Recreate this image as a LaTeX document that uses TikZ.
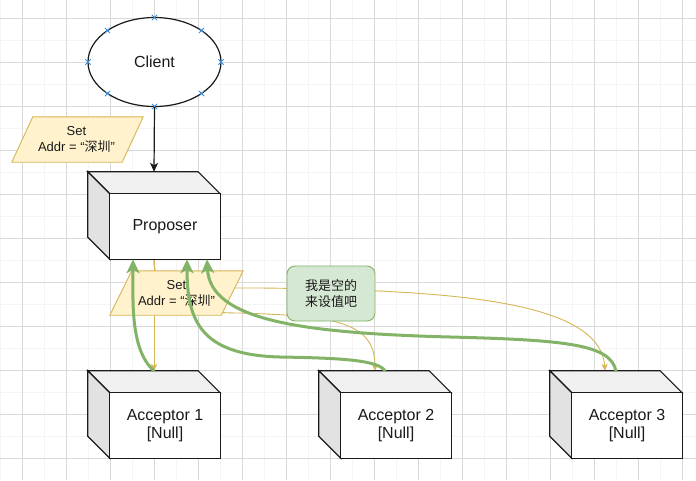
\documentclass[tikz,border=0pt]{standalone}
\usepackage{fontspec}
\setmainfont{Liberation Sans}
\newfontfamily\cjk{Noto Sans CJK SC}
\usetikzlibrary{arrows.meta,shapes.geometric,shapes.misc,calc}
\definecolor{yfill}{HTML}{FFF2CC}
\definecolor{ydraw}{HTML}{D6B656}
\definecolor{gfill}{HTML}{D5E8D4}
\definecolor{gdraw}{HTML}{82B366}
\definecolor{markblue}{HTML}{3A8EDB}
\definecolor{topface}{HTML}{F0F0F0}
\definecolor{sideface}{HTML}{E2E2E2}
\definecolor{gridmajor}{HTML}{D9D9D9}
\definecolor{gridminor}{HTML}{F4F4F4}
\definecolor{ink}{HTML}{1A1A1A}
\newcommand\cubefaces[1]{%
  \draw[cubeline, fill=topface] (#1.north west) -- ([shift={(-22,0)}]#1.north east) -- ([shift={(0,22)}]#1.north east) -- ([shift={(22,22)}]#1.north west) -- cycle;
  \draw[cubeline, fill=sideface] (#1.north west) -- ([shift={(22,22)}]#1.north west) -- ([shift={(22,0)}]#1.south west) -- ([shift={(0,-22)}]#1.south west) -- cycle;
  \draw[cubeline, fill=white] ([shift={(22,22)}]#1.north west) rectangle (#1.south east);
}
\newcommand\setshape[1]{%
  \draw[setline] ([shift={(21,0)}]#1.north west) -- (#1.north east) -- ([shift={(-21,0)}]#1.south east) -- (#1.south west) -- cycle;
}
\begin{document}
\begin{tikzpicture}[x=1pt,y=-1pt,
  cubebox/.style={minimum width=132, minimum height=87, inner sep=0, draw=none},
  cubeline/.style={draw=ink, line width=1.2, line join=miter},
  bigtext/.style={font=\fontsize{16}{18.5}\selectfont, text=ink, align=center, inner sep=0},
  smalltext/.style={font=\fontsize{13}{16}\selectfont, text=ink, align=center, inner sep=0},
  setbox/.style={minimum width=131, minimum height=45, inner sep=0, draw=none},
  setline/.style={draw=ydraw, fill=yfill, line width=0.9},
  yline/.style={draw=ydraw, line width=0.9, -{Stealth[length=7pt,width=6.5pt,inset=2pt]}},
  gline/.style={draw=gdraw, line width=3, line cap=round, -{Stealth[length=14pt,width=13pt,inset=3.5pt]}},
  marker/.style={cross out, draw=markblue, line width=0.8, minimum size=4.5, inner sep=0},
  notebox/.style={draw=gdraw, fill=gfill, rounded corners=8, minimum width=88, minimum height=55, line width=0.9, font=\fontsize{13}{16}\selectfont\cjk, text=ink, align=center}
]
\useasboundingbox (0,0) rectangle (696,480);
\fill[white] (0,0) rectangle (696,480);
% grid
\draw[gridminor, line width=0.7] \foreach \x in {0.3,22.3,...,696} {(\x,0) -- (\x,480)};
\draw[gridminor, line width=0.7] \foreach \y in {18.3,40.3,...,480} {(0,\y) -- (696,\y)};
\draw[gridmajor, line width=0.8] \foreach \x in {22.3,66.3,...,696} {(\x,0) -- (\x,480)};
\draw[gridmajor, line width=0.8] \foreach \y in {18.3,62.3,...,480} {(0,\y) -- (696,\y)};

% invisible frames
\node[cubebox] (prop) at (154,215.5) {};
\node[cubebox] (a1) at (154,414.5) {};
\node[cubebox] (a2) at (385,414.5) {};
\node[cubebox] (a3) at (616,414.5) {};

% yellow connectors
\draw[yline] (prop.south) -- (a1.north);
\draw[yline] (prop.south) .. controls (154,300) and (180,313) .. (240,313) .. controls (330,316) and (375,320) .. ([shift={(-10,0)}]a2.north);
\draw[yline] (prop.south) .. controls (154,290) and (170,288) .. (260,288) .. controls (450,290) and (600,300) .. ([shift={(-11,0)}]a3.north);

% set 2 and note
\node[setbox, minimum width=133, minimum height=44] (set2) at (176.5,293) {};
\draw[setline] ([shift={(22,0)}]set2.north west) -- (set2.north east) -- ([shift={(-22,0)}]set2.south east) -- (set2.south west) -- cycle;
\node[smalltext] (set2t) at (set2.center) {Set\\Addr = “{\cjk 深圳}”};
\node[notebox] (note) at (331,293.5) {我是空的\\来设值吧};

% client
\node[ellipse, draw=ink, fill=white, line width=1.2, minimum width=133, minimum height=89, bigtext] (client) at (154.5,62) {Client};
\foreach \a [count=\i] in {0,45,...,315}
  \node[marker] (mk\i) at ($(client.center)+({66.5*cos(\a)},{44.5*sin(\a)})$) {};
\draw[draw=ink, line width=1.2, -{Stealth[length=9pt,width=8pt,inset=2.5pt]}] (client.south) -- (prop.north);

% set 1
\node[setbox] (set1) at (77.5,139.5) {};
\setshape{set1}
\node[smalltext] (set1t) at ([shift={(-1,0)}]set1.center) {Set\\Addr = “{\cjk 深圳}”};

% cubes
\cubefaces{prop}
\cubefaces{a1}
\cubefaces{a2}
\cubefaces{a3}
\node[bigtext] (propt) at ([shift={(11,11)}]prop.center) {Proposer};
\node[bigtext] (a1t) at ([shift={(11,11)}]a1.center) {Acceptor 1\\{[}Null{]}};
\node[bigtext] (a2t) at ([shift={(11,11)}]a2.center) {Acceptor 2\\{[}Null{]}};
\node[bigtext] (a3t) at ([shift={(11,11)}]a3.center) {Acceptor 3\\{[}Null{]}};

% green replies
\draw[gline] (a1.north) .. controls (130,350) and (133,300) .. ([shift={(-21,0)}]prop.south);
\draw[gline] (a2.north) .. controls (378,360) and (340,358) .. (280,357) .. controls (200,355) and (187,320) .. ([shift={(33,0)}]prop.south);
\draw[gline] (a3.north) .. controls (610,345) and (570,340) .. (450,337) .. controls (300,333) and (210,320) .. ([shift={(53,0)}]prop.south);
\end{tikzpicture}
\end{document}
